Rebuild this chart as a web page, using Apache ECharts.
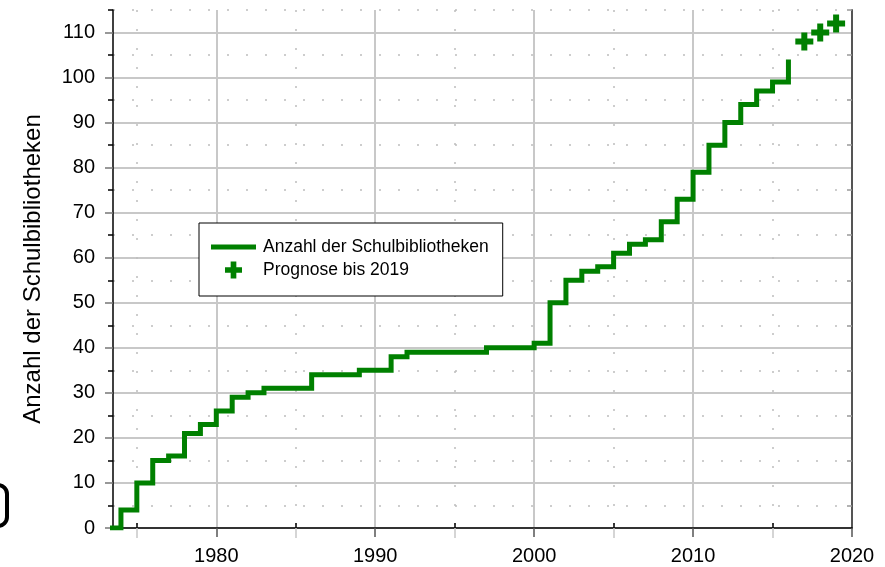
<!DOCTYPE html>
<html lang="de">

<head>
    <meta charset="UTF-8">
    <title>Anzahl der Schulbibliotheken</title>
    <script type="text/javascript" src="https://cdn.jsdelivr.net/npm/echarts@6/dist/echarts.min.js"></script>
    <style>
        html, body {
            margin: 0;
            padding: 0;
            background: #fff;
        }

        #main {
            width: 885px;
            height: 567px;
        }
    </style>
</head>

<body>
    <div id="main"></div>

    <script type="text/javascript">
        // Schulbibliotheken pro Jahr (Stufenlinie)
        var jahre = [1973, 1974, 1975, 1976, 1977, 1978, 1979, 1980, 1981, 1982,
            1983, 1984, 1985, 1986, 1987, 1988, 1989, 1990, 1991, 1992,
            1993, 1994, 1995, 1996, 1997, 1998, 1999, 2000, 2001, 2002,
            2003, 2004, 2005, 2006, 2007, 2008, 2009, 2010, 2011, 2012,
            2013, 2014, 2015, 2016]
        var anzahl = [0, 4, 10, 15, 16, 21, 23, 26, 29, 30,
            31, 31, 31, 34, 34, 34, 35, 35, 38, 39,
            39, 39, 39, 39, 40, 40, 40, 41, 50, 55,
            57, 58, 61, 63, 64, 68, 73, 79, 85, 90,
            94, 97, 99, 104]

        // Prognose
        var prognoseJahre = [2017, 2018, 2019]
        var prognoseWerte = [108, 110, 112]

        // Achsenbeschriftungen
        var xMajor = [1980, 1990, 2000, 2010, 2020]
        var xMinor = [1975, 1985, 1995, 2005, 2015]
        var yMajor = [0, 10, 20, 30, 40, 50, 60, 70, 80, 90, 100, 110]
        var yMinor = [5, 15, 25, 35, 45, 55, 65, 75, 85, 95, 105, 115]

        var nameLinie = 'Anzahl der Schulbibliotheken'
        var namePrognose = 'Prognose bis 2019'

        var font = 'Liberation Sans, Arial, sans-serif'
        var gruen = '#008000'
        var kreuz = 'path://M6,0H12V6H18V12H12V18H6V12H0V6H6Z'

        var linienDaten = jahre.map(function (j, i) { return [j, anzahl[i]] })
        var prognoseDaten = prognoseJahre.map(function (j, i) { return [j, prognoseWerte[i]] })

        var myChart = echarts.init(document.getElementById('main'))

        var option = {
            backgroundColor: '#fff',
            animation: false,
            textStyle: { fontFamily: font },
            grid: {
                left: 113,
                right: 33,
                top: 10,
                bottom: 39,
                outerBoundsMode: 'none'
            },
            graphic: [{
                // angeschnittenes Zeichen am linken Rand
                type: 'rect',
                shape: { x: -30, y: 485, width: 37, height: 41, r: 9 },
                style: { fill: null, stroke: '#000', lineWidth: 4 },
                silent: true
            }],
            legend: {
                orient: 'vertical',
                left: 199,
                top: 223,
                padding: [14, 14, 16, 12],
                itemWidth: 45,
                itemHeight: 17,
                itemGap: 3,
                backgroundColor: '#fff',
                borderColor: '#000',
                borderWidth: 1,
                textStyle: {
                    fontSize: 17.5,
                    color: '#000',
                    fontFamily: font,
                    lineHeight: 20,
                    padding: [0, 0, 0, 2]
                },
                data: [
                    { name: nameLinie, icon: 'path://M0,0H45V5H0Z' },
                    { name: namePrognose, icon: kreuz }
                ]
            },
            xAxis: [{
                // Hauptteilung unten
                type: 'value',
                position: 'bottom',
                min: 1973.5,
                max: 2020,
                axisLine: { show: true, lineStyle: { color: '#000', width: 1.5 } },
                axisTick: {
                    show: true,
                    inside: false,
                    length: 9,
                    customValues: xMajor,
                    lineStyle: { color: '#555', width: 1.5 }
                },
                axisLabel: {
                    customValues: xMajor,
                    fontSize: 20,
                    color: '#000',
                    margin: 18,
                    fontFamily: font,
                    formatter: function (v) { return String(v) }
                },
                splitLine: { show: true, lineStyle: { color: '#c8c8c8', width: 2 } }
            }, {
                // Zwischenteilung unten
                type: 'value',
                position: 'bottom',
                min: 1973.5,
                max: 2020,
                axisLine: { show: false },
                axisTick: {
                    show: true,
                    inside: true,
                    length: 5,
                    customValues: xMinor,
                    lineStyle: { color: '#000', width: 1.5 }
                },
                axisLabel: { show: false },
                splitLine: { show: true, lineStyle: { color: '#bdbdbd', width: 1.5, type: [2, 17] } }
            }, {
                // Zwischenteilung oben
                type: 'value',
                position: 'top',
                min: 1973.5,
                max: 2020,
                axisLine: { show: false },
                axisTick: {
                    show: true,
                    inside: true,
                    length: 10,
                    customValues: xMinor,
                    lineStyle: { color: '#c8c8c8', width: 1.5 }
                },
                axisLabel: { show: false },
                splitLine: { show: false }
            }],
            yAxis: [{
                type: 'value',
                position: 'left',
                min: 0,
                max: 115,
                name: nameLinie,
                nameLocation: 'middle',
                nameGap: 68,
                nameTextStyle: { fontSize: 24, color: '#000', fontFamily: font },
                axisLine: { show: true, lineStyle: { color: '#000', width: 1.5 } },
                axisTick: {
                    show: true,
                    inside: false,
                    length: 8,
                    customValues: yMajor,
                    lineStyle: { color: '#777', width: 1.5 }
                },
                axisLabel: {
                    customValues: yMajor,
                    fontSize: 20,
                    color: '#000',
                    margin: 18,
                    fontFamily: font
                },
                splitLine: { show: true, lineStyle: { color: '#c8c8c8', width: 2 } }
            }, {
                type: 'value',
                position: 'left',
                min: 0,
                max: 115,
                axisLine: { show: false },
                axisTick: {
                    show: true,
                    inside: false,
                    length: 5,
                    customValues: yMinor,
                    lineStyle: { color: '#000', width: 1.5 }
                },
                axisLabel: { show: false },
                splitLine: { show: true, lineStyle: { color: '#bdbdbd', width: 1.5, type: [2, 17] } }
            }, {
                type: 'value',
                position: 'right',
                min: 0,
                max: 115,
                axisLine: { show: true, lineStyle: { color: '#555', width: 2 } },
                axisTick: {
                    show: true,
                    inside: true,
                    length: 5,
                    customValues: yMinor,
                    lineStyle: { color: '#999', width: 1.5 }
                },
                axisLabel: { show: false },
                splitLine: { show: false }
            }],
            series: [{
                name: nameLinie,
                type: 'line',
                xAxisIndex: 0,
                yAxisIndex: 0,
                step: 'end',
                symbol: 'none',
                lineStyle: { color: gruen, width: 5, join: 'miter', cap: 'butt' },
                itemStyle: { color: gruen },
                data: linienDaten,
                z: 5
            }, {
                name: namePrognose,
                type: 'scatter',
                xAxisIndex: 0,
                yAxisIndex: 0,
                symbol: kreuz,
                symbolSize: 18,
                itemStyle: { color: gruen, opacity: 1 },
                data: prognoseDaten,
                z: 5
            }]
        }

        myChart.setOption(option)
    </script>
</body>

</html>
